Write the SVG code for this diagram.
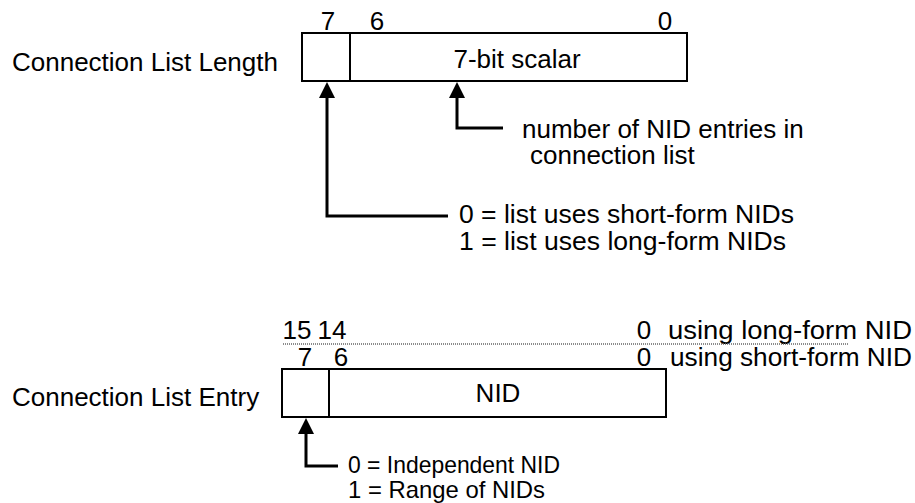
<svg xmlns="http://www.w3.org/2000/svg" width="915" height="503" viewBox="0 0 915 503">
<style>
text{font-family:"Liberation Sans",Arial,sans-serif;fill:#000}
.t{font-size:26px}
.b{font-size:24px}
.m{text-anchor:middle}
.box{fill:#fff;stroke:#000;stroke-width:2}
.conn{fill:none;stroke:#000;stroke-width:3}
</style>
<defs>
<marker id="ah" viewBox="0 0 16 16" markerWidth="16" markerHeight="16" markerUnits="userSpaceOnUse" refX="8" refY="8" orient="auto">
<path d="M0,0 L16,8 L0,16 z" fill="#000"/>
</marker>
</defs>
<rect width="915" height="503" fill="#fff"/>
<g id="length-field">
<text class="t" x="12" y="71">Connection List Length</text>
<text class="t m" x="328" y="30">7</text>
<text class="t m" x="377" y="30">6</text>
<text class="t m" x="665" y="30">0</text>
<rect class="box" x="302" y="33" width="385" height="48"/>
<line x1="350" y1="33" x2="350" y2="81" stroke="#000" stroke-width="2"/>
<text class="t m" x="517" y="68">7-bit scalar</text>
</g>
<g id="length-notes">
<text class="t" x="522" y="138">number of NID entries in</text>
<text class="t" x="530" y="164">connection list</text>
<text class="t" x="459" y="223" textLength="335" lengthAdjust="spacingAndGlyphs">0 = list uses short-form NIDs</text>
<text class="t" x="459" y="250" textLength="327" lengthAdjust="spacingAndGlyphs">1 = list uses long-form NIDs</text>
</g>
<g id="entry-field">
<text class="t m" x="297" y="339">15</text>
<text class="t m" x="332" y="339">14</text>
<text class="t m" x="644" y="339">0</text>
<text class="t" x="668" y="339" textLength="244" lengthAdjust="spacingAndGlyphs">using long-form NID</text>
<line x1="283" y1="344" x2="848" y2="344" stroke="#666" stroke-width="1.5" stroke-dasharray="1 1"/>
<text class="t m" x="305" y="366">7</text>
<text class="t m" x="341" y="366">6</text>
<text class="t m" x="644" y="366">0</text>
<text class="t" x="670" y="366" textLength="242" lengthAdjust="spacingAndGlyphs">using short-form NID</text>
<text class="t" x="12" y="406">Connection List Entry</text>
<rect class="box" x="282" y="369" width="384" height="48"/>
<line x1="329" y1="369" x2="329" y2="417" stroke="#000" stroke-width="2"/>
<text class="t m" x="498" y="402">NID</text>
</g>
<g id="entry-notes">
<text class="b" x="348" y="473" textLength="212" lengthAdjust="spacingAndGlyphs">0 = Independent NID</text>
<text class="b" x="348" y="498" textLength="197" lengthAdjust="spacingAndGlyphs">1 = Range of NIDs</text>
</g>
<g id="connectors">
<path class="conn" d="M448,216 H327 V90" marker-end="url(#ah)"/>
<path class="conn" d="M503,128 H457 V90" marker-end="url(#ah)"/>
<path class="conn" d="M338,466 H306 V426" marker-end="url(#ah)"/>
</g>
</svg>
